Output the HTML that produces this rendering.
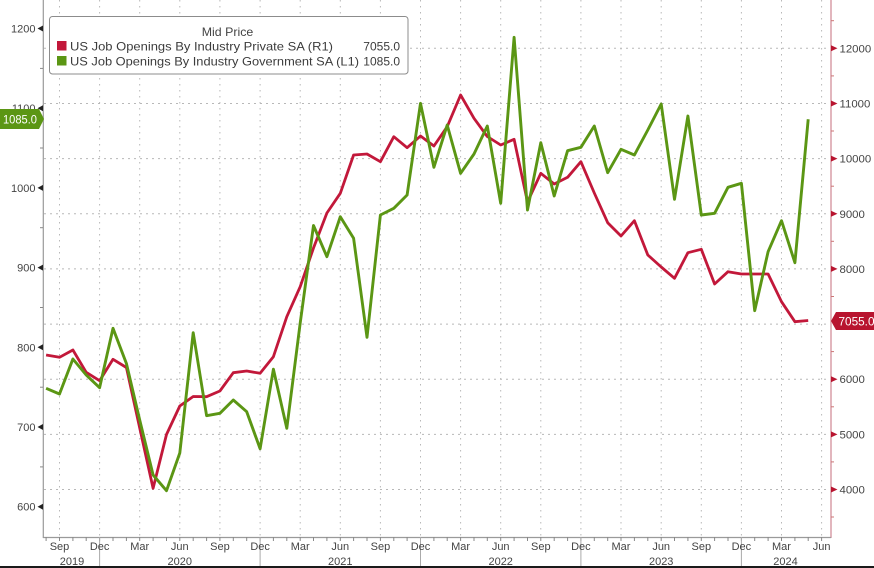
<!DOCTYPE html>
<html><head><meta charset="utf-8"><style>
html,body{margin:0;padding:0;background:#fff;}
svg{display:block;font-family:"Liberation Sans",sans-serif;}
</style></head><body>
<svg width="874" height="568" viewBox="0 0 874 568" xmlns="http://www.w3.org/2000/svg">
<rect width="874" height="568" fill="#fff"/>
<g stroke="#b8b8b8" stroke-width="1" stroke-dasharray="2 4">
<line x1="44" y1="48.3" x2="830" y2="48.3"/>
<line x1="44" y1="103.5" x2="830" y2="103.5"/>
<line x1="44" y1="158.6" x2="830" y2="158.6"/>
<line x1="44" y1="213.8" x2="830" y2="213.8"/>
<line x1="44" y1="268.9" x2="830" y2="268.9"/>
<line x1="44" y1="324.1" x2="830" y2="324.1"/>
<line x1="44" y1="379.2" x2="830" y2="379.2"/>
<line x1="44" y1="434.4" x2="830" y2="434.4"/>
<line x1="44" y1="489.5" x2="830" y2="489.5"/>
</g>
<g stroke="#b8b8b8" stroke-width="1" stroke-dasharray="1.5 4.5">
<line x1="59.5" y1="0" x2="59.5" y2="537"/>
<line x1="99.6" y1="0" x2="99.6" y2="537"/>
<line x1="139.7" y1="0" x2="139.7" y2="537"/>
<line x1="179.8" y1="0" x2="179.8" y2="537"/>
<line x1="219.9" y1="0" x2="219.9" y2="537"/>
<line x1="260.1" y1="0" x2="260.1" y2="537"/>
<line x1="300.2" y1="0" x2="300.2" y2="537"/>
<line x1="340.3" y1="0" x2="340.3" y2="537"/>
<line x1="380.4" y1="0" x2="380.4" y2="537"/>
<line x1="420.5" y1="0" x2="420.5" y2="537"/>
<line x1="460.6" y1="0" x2="460.6" y2="537"/>
<line x1="500.7" y1="0" x2="500.7" y2="537"/>
<line x1="540.8" y1="0" x2="540.8" y2="537"/>
<line x1="580.9" y1="0" x2="580.9" y2="537"/>
<line x1="621.0" y1="0" x2="621.0" y2="537"/>
<line x1="661.2" y1="0" x2="661.2" y2="537"/>
<line x1="701.3" y1="0" x2="701.3" y2="537"/>
<line x1="741.4" y1="0" x2="741.4" y2="537"/>
<line x1="781.5" y1="0" x2="781.5" y2="537"/>
<line x1="821.6" y1="0" x2="821.6" y2="537"/>
</g>
<line x1="43.3" y1="0" x2="43.3" y2="538" stroke="#9a9a9a" stroke-width="1.2"/>
<line x1="831" y1="0" x2="831" y2="538" stroke="#d28e9a" stroke-width="1.3"/>
<line x1="43" y1="537.5" x2="831" y2="537.5" stroke="#9a9a9a" stroke-width="1.2"/>
<g stroke="#888" stroke-width="1">
<line x1="46.1" y1="537" x2="46.1" y2="541"/><line x1="59.5" y1="537" x2="59.5" y2="541"/><line x1="72.9" y1="537" x2="72.9" y2="541"/><line x1="86.2" y1="537" x2="86.2" y2="541"/><line x1="99.6" y1="537" x2="99.6" y2="541"/><line x1="113" y1="537" x2="113" y2="541"/><line x1="126.4" y1="537" x2="126.4" y2="541"/><line x1="139.7" y1="537" x2="139.7" y2="541"/><line x1="153.1" y1="537" x2="153.1" y2="541"/><line x1="166.5" y1="537" x2="166.5" y2="541"/><line x1="179.8" y1="537" x2="179.8" y2="541"/><line x1="193.2" y1="537" x2="193.2" y2="541"/><line x1="206.6" y1="537" x2="206.6" y2="541"/><line x1="219.9" y1="537" x2="219.9" y2="541"/><line x1="233.3" y1="537" x2="233.3" y2="541"/><line x1="246.7" y1="537" x2="246.7" y2="541"/><line x1="260.1" y1="537" x2="260.1" y2="541"/><line x1="273.4" y1="537" x2="273.4" y2="541"/><line x1="286.8" y1="537" x2="286.8" y2="541"/><line x1="300.2" y1="537" x2="300.2" y2="541"/><line x1="313.5" y1="537" x2="313.5" y2="541"/><line x1="326.9" y1="537" x2="326.9" y2="541"/><line x1="340.3" y1="537" x2="340.3" y2="541"/><line x1="353.6" y1="537" x2="353.6" y2="541"/><line x1="367" y1="537" x2="367" y2="541"/><line x1="380.4" y1="537" x2="380.4" y2="541"/><line x1="393.8" y1="537" x2="393.8" y2="541"/><line x1="407.1" y1="537" x2="407.1" y2="541"/><line x1="420.5" y1="537" x2="420.5" y2="541"/><line x1="433.9" y1="537" x2="433.9" y2="541"/><line x1="447.2" y1="537" x2="447.2" y2="541"/><line x1="460.6" y1="537" x2="460.6" y2="541"/><line x1="474" y1="537" x2="474" y2="541"/><line x1="487.3" y1="537" x2="487.3" y2="541"/><line x1="500.7" y1="537" x2="500.7" y2="541"/><line x1="514.1" y1="537" x2="514.1" y2="541"/><line x1="527.5" y1="537" x2="527.5" y2="541"/><line x1="540.8" y1="537" x2="540.8" y2="541"/><line x1="554.2" y1="537" x2="554.2" y2="541"/><line x1="567.6" y1="537" x2="567.6" y2="541"/><line x1="580.9" y1="537" x2="580.9" y2="541"/><line x1="594.3" y1="537" x2="594.3" y2="541"/><line x1="607.7" y1="537" x2="607.7" y2="541"/><line x1="621" y1="537" x2="621" y2="541"/><line x1="634.4" y1="537" x2="634.4" y2="541"/><line x1="647.8" y1="537" x2="647.8" y2="541"/><line x1="661.2" y1="537" x2="661.2" y2="541"/><line x1="674.5" y1="537" x2="674.5" y2="541"/><line x1="687.9" y1="537" x2="687.9" y2="541"/><line x1="701.3" y1="537" x2="701.3" y2="541"/><line x1="714.6" y1="537" x2="714.6" y2="541"/><line x1="728" y1="537" x2="728" y2="541"/><line x1="741.4" y1="537" x2="741.4" y2="541"/><line x1="754.7" y1="537" x2="754.7" y2="541"/><line x1="768.1" y1="537" x2="768.1" y2="541"/><line x1="781.5" y1="537" x2="781.5" y2="541"/><line x1="794.9" y1="537" x2="794.9" y2="541"/><line x1="808.2" y1="537" x2="808.2" y2="541"/><line x1="821.6" y1="537" x2="821.6" y2="541"/>
</g>
<g stroke="#aaa" stroke-width="1">
<line x1="99.6" y1="537" x2="99.6" y2="566"/>
<line x1="260.1" y1="537" x2="260.1" y2="566"/>
<line x1="420.5" y1="537" x2="420.5" y2="566"/>
<line x1="580.9" y1="537" x2="580.9" y2="566"/>
<line x1="741.4" y1="537" x2="741.4" y2="566"/>
</g>
<g stroke="#888" stroke-width="1">
<line x1="40" y1="68.4" x2="43" y2="68.4"/>
<line x1="40" y1="148" x2="43" y2="148"/>
<line x1="40" y1="227.7" x2="43" y2="227.7"/>
<line x1="40" y1="307.5" x2="43" y2="307.5"/>
<line x1="40" y1="387.2" x2="43" y2="387.2"/>
<line x1="40" y1="466.9" x2="43" y2="466.9"/>
</g>
<g stroke="#c77" stroke-width="1">
<line x1="831" y1="20.7" x2="834" y2="20.7"/>
<line x1="831" y1="75.9" x2="834" y2="75.9"/>
<line x1="831" y1="131" x2="834" y2="131"/>
<line x1="831" y1="186.2" x2="834" y2="186.2"/>
<line x1="831" y1="241.3" x2="834" y2="241.3"/>
<line x1="831" y1="296.5" x2="834" y2="296.5"/>
<line x1="831" y1="351.6" x2="834" y2="351.6"/>
<line x1="831" y1="406.8" x2="834" y2="406.8"/>
<line x1="831" y1="461.9" x2="834" y2="461.9"/>
<line x1="831" y1="517" x2="834" y2="517"/>
</g>
<g fill="#222">
<polygon points="43,25.5 37.5,28.5 43,31.5"/>
<polygon points="43,105.2 37.5,108.2 43,111.2"/>
<polygon points="43,184.9 37.5,187.9 43,190.9"/>
<polygon points="43,264.6 37.5,267.6 43,270.6"/>
<polygon points="43,344.3 37.5,347.3 43,350.3"/>
<polygon points="43,424 37.5,427 43,430"/>
<polygon points="43,503.7 37.5,506.7 43,509.7"/>
</g>
<g fill="#444" font-size="11" text-anchor="end">
<text x="35.5" y="32.5">1200</text>
<text x="35.5" y="112.2">1100</text>
<text x="35.5" y="191.9">1000</text>
<text x="35.5" y="271.6">900</text>
<text x="35.5" y="351.3">800</text>
<text x="35.5" y="431">700</text>
<text x="35.5" y="510.7">600</text>
</g>
<g fill="#b8142f">
<polygon points="831,45.3 837.5,48.3 831,51.3"/>
<polygon points="831,100.5 837.5,103.5 831,106.5"/>
<polygon points="831,155.6 837.5,158.6 831,161.6"/>
<polygon points="831,210.8 837.5,213.8 831,216.8"/>
<polygon points="831,265.9 837.5,268.9 831,271.9"/>
<polygon points="831,376.2 837.5,379.2 831,382.2"/>
<polygon points="831,431.4 837.5,434.4 831,437.4"/>
<polygon points="831,486.5 837.5,489.5 831,492.5"/>
</g>
<g fill="#444" font-size="11.4">
<text x="839.5" y="52.3">12000</text>
<text x="839.5" y="107.5">11000</text>
<text x="839.5" y="162.6">10000</text>
<text x="839.5" y="217.8">9000</text>
<text x="839.5" y="272.9">8000</text>
<text x="839.5" y="383.2">6000</text>
<text x="839.5" y="438.4">5000</text>
<text x="839.5" y="493.5">4000</text>
</g>
<g fill="#444" font-size="11" text-anchor="middle">
<text x="59.5" y="550">Sep</text>
<text x="99.6" y="550">Dec</text>
<text x="139.7" y="550">Mar</text>
<text x="179.8" y="550">Jun</text>
<text x="219.9" y="550">Sep</text>
<text x="260.1" y="550">Dec</text>
<text x="300.2" y="550">Mar</text>
<text x="340.3" y="550">Jun</text>
<text x="380.4" y="550">Sep</text>
<text x="420.5" y="550">Dec</text>
<text x="460.6" y="550">Mar</text>
<text x="500.7" y="550">Jun</text>
<text x="540.8" y="550">Sep</text>
<text x="580.9" y="550">Dec</text>
<text x="621.0" y="550">Mar</text>
<text x="661.2" y="550">Jun</text>
<text x="701.3" y="550">Sep</text>
<text x="741.4" y="550">Dec</text>
<text x="781.5" y="550">Mar</text>
<text x="821.6" y="550">Jun</text>
<text x="72" y="565">2019</text>
<text x="179.8" y="565">2020</text>
<text x="340.3" y="565">2021</text>
<text x="500.7" y="565">2022</text>
<text x="661.2" y="565">2023</text>
<text x="785.5" y="565">2024</text>
</g>
<polyline fill="none" stroke="#c2183a" stroke-width="2.8" stroke-linejoin="round" points="
46.1,355 59.5,357.3 72.9,350 86.2,372.3 99.6,380.7 113,359.3 126.4,367.5 139.7,428 153.1,488.3 166.5,434.5 179.8,406 193.2,396.5 206.6,396.7 219.9,391 233.3,372.7 246.7,371 260.1,373.3 273.4,356.7 286.8,316.7 300.2,286.7 313.5,248 326.9,213 340.3,193.3 353.6,155 367,154 380.4,161.7 393.8,136.7 407.1,147.7 420.5,136 433.9,146 447.2,126.7 460.6,95 474,118.3 487.3,136.5 500.7,145 514.1,139.3 527.5,202 540.8,173.3 554.2,184 567.6,177.3 580.9,161.7 594.3,193 607.7,222.7 621,236 634.4,220.7 647.8,255 661.2,267 674.5,278.3 687.9,252.7 701.3,249.3 714.6,284 728,271.7 741.4,274 754.7,274 768.1,274 781.5,301.7 794.9,321.7 808.2,320.5"/>
<polyline fill="none" stroke="#5b9614" stroke-width="2.9" stroke-linejoin="round" points="
46.1,388.3 59.5,394 72.9,359 86.2,375 99.6,387.7 113,328.3 126.4,363.5 139.7,420 153.1,475 166.5,490.7 179.8,453 193.2,332.7 206.6,415.7 219.9,413.3 233.3,400 246.7,411.7 260.1,448.8 273.4,369.2 286.8,428.3 300.2,323 313.5,225.5 326.9,256.7 340.3,216.7 353.6,238.3 367,337.3 380.4,215 393.8,208.3 407.1,195 420.5,103.3 433.9,167.3 447.2,125 460.6,173.3 474,154 487.3,126 500.7,203.3 514.1,37.3 527.5,210 540.8,142.7 554.2,196 567.6,150.7 580.9,147.3 594.3,126 607.7,172.7 621,149.3 634.4,155 647.8,130 661.2,104 674.5,199.3 687.9,116 701.3,215 714.6,213.3 728,187.3 741.4,183.3 754.7,310.7 768.1,251.7 781.5,220.7 794.9,262.7 808.2,119.3"/>
<rect x="49.5" y="16.5" width="358.5" height="57.5" rx="3" ry="3" fill="#fff" stroke="#8c8c8c" stroke-width="1"/>
<text x="227.5" y="36" fill="#444" font-size="12" text-anchor="middle" textLength="51.5" lengthAdjust="spacingAndGlyphs">Mid Price</text>
<rect x="57" y="41" width="9.5" height="9.5" fill="#c2183a"/>
<rect x="57" y="56" width="9.5" height="9.5" fill="#5b9614"/>
<text x="70" y="50.5" fill="#3c3c3c" font-size="12" textLength="263" lengthAdjust="spacingAndGlyphs">US Job Openings By Industry Private SA  (R1)</text>
<text x="400" y="50.5" fill="#3c3c3c" font-size="12" text-anchor="end">7055.0</text>
<text x="70" y="65.5" fill="#3c3c3c" font-size="12" textLength="289" lengthAdjust="spacingAndGlyphs">US Job Openings By Industry Government SA  (L1)</text>
<text x="400" y="65.5" fill="#3c3c3c" font-size="12" text-anchor="end">1085.0</text>
<path d="M0,109 L39,109 L44,119 L39,129 L0,129 Z" fill="#5b9614"/>
<text x="3" y="123.3" fill="#fff" font-size="11.5" textLength="34" lengthAdjust="spacingAndGlyphs">1085.0</text>
<path d="M831,321 L836,312 L874,312 L874,330 L836,330 Z" fill="#b8142f"/>
<text x="838.5" y="325.3" fill="#fff" font-size="12" textLength="36" lengthAdjust="spacingAndGlyphs">7055.0</text>
<rect x="0" y="566" width="874" height="2" fill="#1a1a1a"/>
</svg>
</body></html>
